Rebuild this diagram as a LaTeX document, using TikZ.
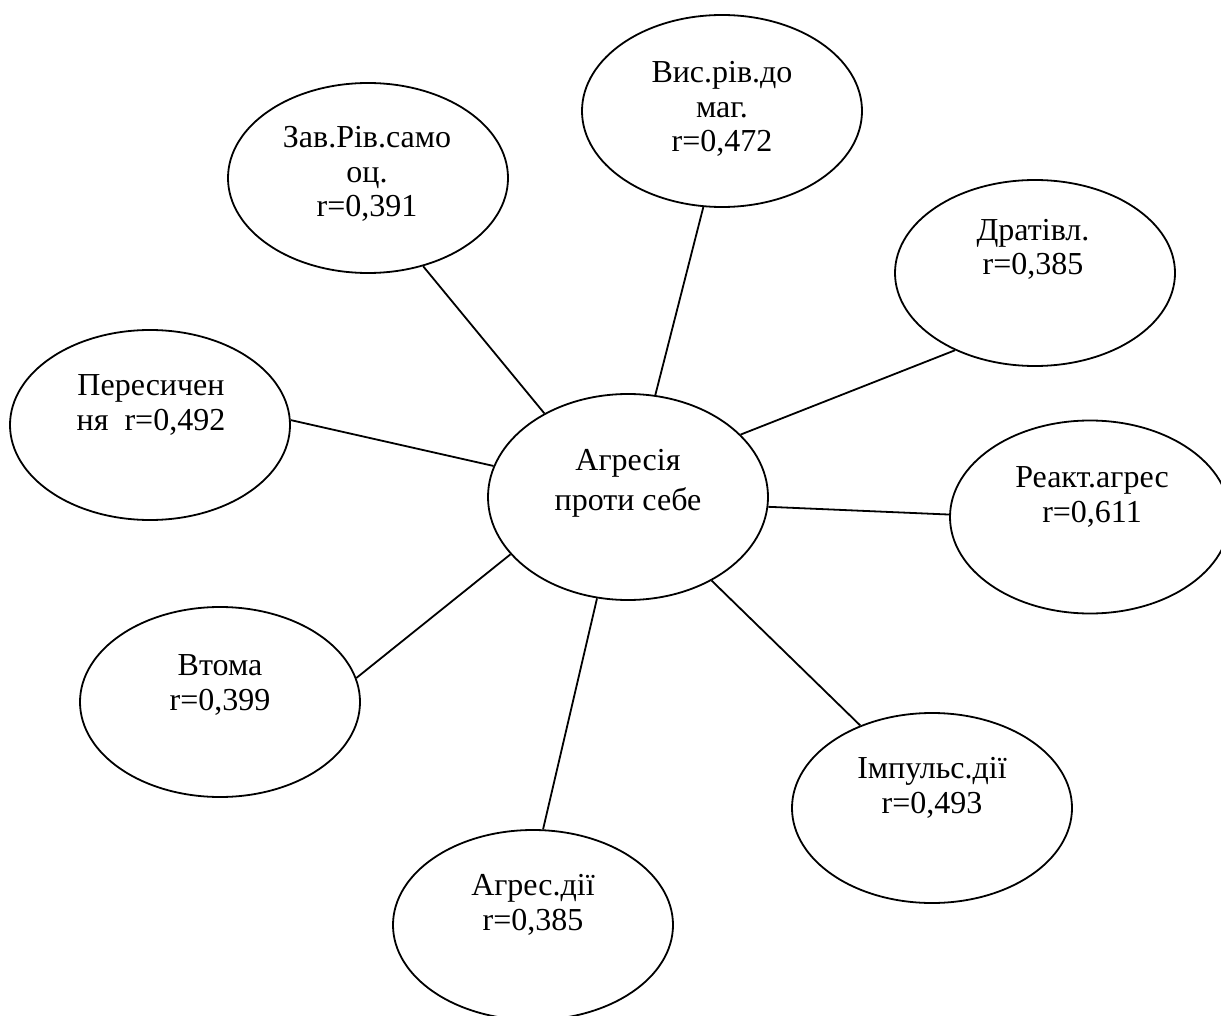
\documentclass[tikz,border=0pt]{standalone}
\usepackage{fontspec}
\setmainfont{Liberation Serif}
\usetikzlibrary{shapes.geometric}
\begin{document}
\begin{tikzpicture}[x=1pt,y=-1pt,
  oval/.style={draw, ellipse, line width=1.8pt, inner sep=0pt,
    minimum width=280pt, minimum height=190pt},
  leaftext/.style={align=center, font=\fontsize{32}{34.5}\selectfont,
    anchor=base, inner sep=0pt},
  centertext/.style={align=center, font=\fontsize{32}{40}\selectfont,
    anchor=base, inner sep=0pt},
  link/.style={line width=1.8pt}]
\clip (0,0) rectangle (1221,1016);
\fill[white] (0,0) rectangle (1221,1016);

% ellipses
\node[oval, minimum height=206pt] (C) at (628,497) {};
\node[oval] (z) at (368,178) {};
\node[oval, minimum height=192pt] (v) at (722,111) {};
\node[oval, minimum height=186pt] (d) at (1035,273) {};
\node[oval] (p) at (150,425) {};
\node[oval, minimum height=193pt] (r) at (1090,517) {};
\node[oval] (t) at (220,702) {};
\node[oval] (i) at (932,808) {};
\node[oval] (a) at (533,925) {};

% texts (anchored at the baseline of the last line)
\node[centertext] (Ct) at (628,510) {Агресія\\проти себе};
\node[leaftext] (zt) at (367,217) {Зав.Рів.само\\оц.\\r=0,391};
\node[leaftext] (vt) at (722,152) {Вис.рів.до\\маг.\\r=0,472};
\node[leaftext] (dt) at (1033,275) {Дратівл.\\r=0,385};
\node[leaftext] (pt) at (151,430) {Пересичен\\ня\ \ r=0,492};
\node[leaftext] (rt) at (1092,522) {Реакт.агрес\\r=0,611};
\node[leaftext] (tt) at (220,710) {Втома\\r=0,399};
\node[leaftext] (it) at (932,813) {Імпульс.дії\\r=0,493};
\node[leaftext] (at) at (533,930) {Агрес.дії\\r=0,385};

% connectors
\draw[link] (z.-58.2) -- (C.135.3);
\draw[link] (v.-101.2) -- (C.75.4);
\draw[link] (d.-136.1) -- (C.29.3);
\draw[link] (p.2) -- (C.167.3);
\draw[link] (r.179.6) -- (C.-4.5);
\draw[link] (t.10.4) -- (C.-154.2);
\draw[link] (i.131.7) -- (C.-45.3);
\draw[link] (a.84.6) -- (C.-107.1);
\end{tikzpicture}
\end{document}
